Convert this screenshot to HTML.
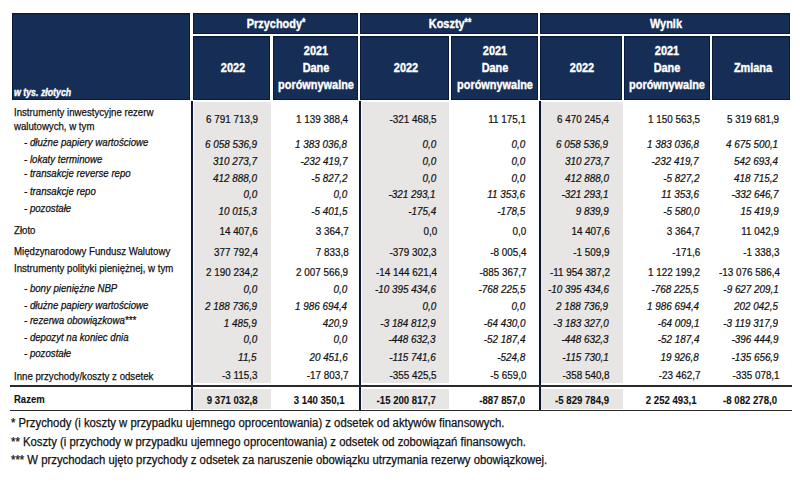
<!DOCTYPE html>
<html><head><meta charset="utf-8"><title>Tabela</title>
<style>
html,body{margin:0;padding:0;background:#fff;}
#r{position:relative;width:800px;height:486px;overflow:hidden;background:#fff;font-family:"Liberation Sans",Arial,sans-serif;}
.b{position:absolute;}
.ht{position:absolute;width:200px;text-align:center;color:#fff;font-weight:bold;line-height:1;white-space:nowrap;transform-origin:50% 0;-webkit-text-stroke-width:0.4px;}
.ast{font-size:10px;vertical-align:2px;}
.lt{position:absolute;font-size:11.0px;line-height:1;white-space:nowrap;color:#111;-webkit-text-stroke-width:0.25px;transform:scaleX(0.877);transform-origin:0 0;}
.nt{position:absolute;font-size:11.0px;line-height:1;white-space:nowrap;color:#111;text-align:right;-webkit-text-stroke-width:0.22px;transform:scaleX(0.897);transform-origin:100% 0;}
.ft{position:absolute;font-size:12px;line-height:1;white-space:nowrap;color:#111;-webkit-text-stroke-width:0.25px;transform:scaleX(0.9425);transform-origin:0 0;}
</style></head><body><div id="r">
<div class="b" style="left:12px;top:13px;width:178px;height:87px;background:#162e55;box-shadow:inset 0 0 0 1px #0a1a3c,inset 0 1px 0 1px #11244a;"></div>
<div class="b" style="left:193px;top:13px;width:165px;height:21px;background:#162e55;box-shadow:inset 0 0 0 1px #0a1a3c,inset 0 1px 0 1px #11244a;"></div>
<div class="b" style="left:360px;top:13px;width:178px;height:21px;background:#162e55;box-shadow:inset 0 0 0 1px #0a1a3c,inset 0 1px 0 1px #11244a;"></div>
<div class="b" style="left:540px;top:13px;width:250px;height:21px;background:#162e55;box-shadow:inset 0 0 0 1px #0a1a3c,inset 0 1px 0 1px #11244a;"></div>
<div class="b" style="left:193px;top:36px;width:77px;height:64px;background:#162e55;box-shadow:inset 0 0 0 1px #0a1a3c,inset 0 1px 0 1px #11244a;"></div>
<div class="b" style="left:273px;top:36px;width:85px;height:64px;background:#162e55;box-shadow:inset 0 0 0 1px #0a1a3c,inset 0 1px 0 1px #11244a;"></div>
<div class="b" style="left:360px;top:36px;width:89px;height:64px;background:#162e55;box-shadow:inset 0 0 0 1px #0a1a3c,inset 0 1px 0 1px #11244a;"></div>
<div class="b" style="left:451px;top:36px;width:87px;height:64px;background:#162e55;box-shadow:inset 0 0 0 1px #0a1a3c,inset 0 1px 0 1px #11244a;"></div>
<div class="b" style="left:540px;top:36px;width:82px;height:64px;background:#162e55;box-shadow:inset 0 0 0 1px #0a1a3c,inset 0 1px 0 1px #11244a;"></div>
<div class="b" style="left:624px;top:36px;width:86px;height:64px;background:#162e55;box-shadow:inset 0 0 0 1px #0a1a3c,inset 0 1px 0 1px #11244a;"></div>
<div class="b" style="left:712px;top:36px;width:78px;height:64px;background:#162e55;box-shadow:inset 0 0 0 1px #0a1a3c,inset 0 1px 0 1px #11244a;"></div>
<div class="b" style="left:194px;top:102px;width:77px;height:281.4px;background:#e7e6e5;"></div>
<div class="b" style="left:194px;top:388.8px;width:77px;height:19.80000000000001px;background:#e7e6e5;"></div>
<div class="b" style="left:362px;top:102px;width:87px;height:281.4px;background:#e7e6e5;"></div>
<div class="b" style="left:362px;top:388.8px;width:87px;height:19.80000000000001px;background:#e7e6e5;"></div>
<div class="b" style="left:541px;top:102px;width:82px;height:281.4px;background:#e7e6e5;"></div>
<div class="b" style="left:541px;top:388.8px;width:82px;height:19.80000000000001px;background:#e7e6e5;"></div>
<div class="b" style="left:191px;top:101px;width:2px;height:310px;background:#0c1734;"></div>
<div class="b" style="left:359px;top:101px;width:2px;height:310px;background:#0c1734;"></div>
<div class="b" style="left:539px;top:101px;width:2px;height:310px;background:#0c1734;"></div>
<div class="b" style="left:10px;top:384.7px;width:782px;height:1.900000000000034px;background:#2a2a2a;"></div>
<div class="b" style="left:10px;top:409.6px;width:782px;height:1.7999999999999545px;background:#2a2a2a;"></div>
<div class="ht" style="left:176.3px;top:17.00px;font-size:13px;transform:scaleX(0.84)">Przychody<span class="ast">*</span></div>
<div class="ht" style="left:350.0px;top:17.00px;font-size:13px;transform:scaleX(0.84)">Koszty<span class="ast">**</span></div>
<div class="ht" style="left:565.9px;top:17.00px;font-size:13px;transform:scaleX(0.84)">Wynik</div>
<div class="ht" style="left:132.5px;top:61.40px;font-size:13px;transform:scaleX(0.84)">2022</div>
<div class="ht" style="left:305.5px;top:61.40px;font-size:13px;transform:scaleX(0.84)">2022</div>
<div class="ht" style="left:482.0px;top:61.40px;font-size:13px;transform:scaleX(0.84)">2022</div>
<div class="ht" style="left:215.5px;top:43.90px;font-size:13px;transform:scaleX(0.84)">2021</div>
<div class="ht" style="left:215.5px;top:61.00px;font-size:13px;transform:scaleX(0.84)">Dane</div>
<div class="ht" style="left:215.5px;top:77.80px;font-size:13px;transform:scaleX(0.84)">porównywalne</div>
<div class="ht" style="left:394.5px;top:43.90px;font-size:13px;transform:scaleX(0.84)">2021</div>
<div class="ht" style="left:394.5px;top:61.00px;font-size:13px;transform:scaleX(0.84)">Dane</div>
<div class="ht" style="left:394.5px;top:77.80px;font-size:13px;transform:scaleX(0.84)">porównywalne</div>
<div class="ht" style="left:567.0px;top:43.90px;font-size:13px;transform:scaleX(0.84)">2021</div>
<div class="ht" style="left:567.0px;top:61.00px;font-size:13px;transform:scaleX(0.84)">Dane</div>
<div class="ht" style="left:567.0px;top:77.80px;font-size:13px;transform:scaleX(0.84)">porównywalne</div>
<div class="ht" style="left:652.5px;top:61.40px;font-size:13px;transform:scaleX(0.84)">Zmiana</div>
<div class="lt" style="left:13.5px;top:87.73px;font-size:10px;color:#fff;font-weight:bold;font-style:italic;-webkit-text-stroke-width:0.35px;transform:scaleX(0.88)">w tys. złotych</div>
<div class="lt" style="left:13.5px;top:107.19px;">Instrumenty inwestycyjne rezerw</div>
<div class="lt" style="left:13.5px;top:120.59px;">walutowych, w tym</div>
<div class="nt" style="right:542.00px;top:114.19px;">6 791 713,9</div>
<div class="nt" style="right:451.60px;top:114.19px;">1 139 388,4</div>
<div class="nt" style="right:363.00px;top:114.19px;">-321 468,5</div>
<div class="nt" style="right:273.60px;top:114.19px;">11 175,1</div>
<div class="nt" style="right:190.40px;top:114.19px;">6 470 245,4</div>
<div class="nt" style="right:100.00px;top:114.19px;">1 150 563,5</div>
<div class="nt" style="right:20.60px;top:114.19px;">5 319 681,9</div>
<div class="lt" style="left:23.5px;top:137.39px;font-style:italic;">- dłużne papiery wartościowe</div>
<div class="nt" style="right:543.00px;top:139.19px;font-style:italic;">6 058 536,9</div>
<div class="nt" style="right:452.60px;top:139.19px;font-style:italic;">1 383 036,8</div>
<div class="nt" style="right:364.00px;top:139.19px;font-style:italic;">0,0</div>
<div class="nt" style="right:274.60px;top:139.19px;font-style:italic;">0,0</div>
<div class="nt" style="right:191.40px;top:139.19px;font-style:italic;">6 058 536,9</div>
<div class="nt" style="right:101.00px;top:139.19px;font-style:italic;">1 383 036,8</div>
<div class="nt" style="right:21.60px;top:139.19px;font-style:italic;">4 675 500,1</div>
<div class="lt" style="left:23.5px;top:153.79px;font-style:italic;">- lokaty terminowe</div>
<div class="nt" style="right:543.00px;top:156.29px;font-style:italic;">310 273,7</div>
<div class="nt" style="right:452.60px;top:156.29px;font-style:italic;">-232 419,7</div>
<div class="nt" style="right:364.00px;top:156.29px;font-style:italic;">0,0</div>
<div class="nt" style="right:274.60px;top:156.29px;font-style:italic;">0,0</div>
<div class="nt" style="right:191.40px;top:156.29px;font-style:italic;">310 273,7</div>
<div class="nt" style="right:101.00px;top:156.29px;font-style:italic;">-232 419,7</div>
<div class="nt" style="right:21.60px;top:156.29px;font-style:italic;">542 693,4</div>
<div class="lt" style="left:23.5px;top:168.49px;font-style:italic;">- transakcje reverse repo</div>
<div class="nt" style="right:543.00px;top:172.79px;font-style:italic;">412 888,0</div>
<div class="nt" style="right:452.60px;top:172.79px;font-style:italic;">-5 827,2</div>
<div class="nt" style="right:364.00px;top:172.79px;font-style:italic;">0,0</div>
<div class="nt" style="right:274.60px;top:172.79px;font-style:italic;">0,0</div>
<div class="nt" style="right:191.40px;top:172.79px;font-style:italic;">412 888,0</div>
<div class="nt" style="right:101.00px;top:172.79px;font-style:italic;">-5 827,2</div>
<div class="nt" style="right:21.60px;top:172.79px;font-style:italic;">418 715,2</div>
<div class="lt" style="left:23.5px;top:185.59px;font-style:italic;">- transakcje repo</div>
<div class="nt" style="right:543.00px;top:189.09px;font-style:italic;">0,0</div>
<div class="nt" style="right:452.60px;top:189.09px;font-style:italic;">0,0</div>
<div class="nt" style="right:364.00px;top:189.09px;font-style:italic;">-321 293,1</div>
<div class="nt" style="right:274.60px;top:189.09px;font-style:italic;">11 353,6</div>
<div class="nt" style="right:191.40px;top:189.09px;font-style:italic;">-321 293,1</div>
<div class="nt" style="right:101.00px;top:189.09px;font-style:italic;">11 353,6</div>
<div class="nt" style="right:21.60px;top:189.09px;font-style:italic;">-332 646,7</div>
<div class="lt" style="left:23.5px;top:202.89px;font-style:italic;">- pozostałe</div>
<div class="nt" style="right:543.00px;top:206.49px;font-style:italic;">10 015,3</div>
<div class="nt" style="right:452.60px;top:206.49px;font-style:italic;">-5 401,5</div>
<div class="nt" style="right:364.00px;top:206.49px;font-style:italic;">-175,4</div>
<div class="nt" style="right:274.60px;top:206.49px;font-style:italic;">-178,5</div>
<div class="nt" style="right:191.40px;top:206.49px;font-style:italic;">9 839,9</div>
<div class="nt" style="right:101.00px;top:206.49px;font-style:italic;">-5 580,0</div>
<div class="nt" style="right:21.60px;top:206.49px;font-style:italic;">15 419,9</div>
<div class="lt" style="left:13.5px;top:225.19px;">Złoto</div>
<div class="nt" style="right:542.00px;top:225.69px;">14 407,6</div>
<div class="nt" style="right:451.60px;top:225.69px;">3 364,7</div>
<div class="nt" style="right:363.00px;top:225.69px;">0,0</div>
<div class="nt" style="right:273.60px;top:225.69px;">0,0</div>
<div class="nt" style="right:190.40px;top:225.69px;">14 407,6</div>
<div class="nt" style="right:100.00px;top:225.69px;">3 364,7</div>
<div class="nt" style="right:20.60px;top:225.69px;">11 042,9</div>
<div class="lt" style="left:13.5px;top:245.89px;">Międzynarodowy Fundusz Walutowy</div>
<div class="nt" style="right:542.00px;top:246.69px;">377 792,4</div>
<div class="nt" style="right:451.60px;top:246.69px;">7 833,8</div>
<div class="nt" style="right:363.00px;top:246.69px;">-379 302,3</div>
<div class="nt" style="right:273.60px;top:246.69px;">-8 005,4</div>
<div class="nt" style="right:190.40px;top:246.69px;">-1 509,9</div>
<div class="nt" style="right:100.00px;top:246.69px;">-171,6</div>
<div class="nt" style="right:20.60px;top:246.69px;">-1 338,3</div>
<div class="lt" style="left:13.5px;top:262.59px;">Instrumenty polityki pieniężnej, w tym</div>
<div class="nt" style="right:542.00px;top:266.69px;">2 190 234,2</div>
<div class="nt" style="right:451.60px;top:266.69px;">2 007 566,9</div>
<div class="nt" style="right:363.00px;top:266.69px;">-14 144 621,4</div>
<div class="nt" style="right:273.60px;top:266.69px;">-885 367,7</div>
<div class="nt" style="right:190.40px;top:266.69px;">-11 954 387,2</div>
<div class="nt" style="right:100.00px;top:266.69px;">1 122 199,2</div>
<div class="nt" style="right:20.60px;top:266.69px;">-13 076 586,4</div>
<div class="lt" style="left:23.5px;top:282.89px;font-style:italic;">- bony pieniężne NBP</div>
<div class="nt" style="right:543.00px;top:283.89px;font-style:italic;">0,0</div>
<div class="nt" style="right:452.60px;top:283.89px;font-style:italic;">0,0</div>
<div class="nt" style="right:364.00px;top:283.89px;font-style:italic;">-10 395 434,6</div>
<div class="nt" style="right:274.60px;top:283.89px;font-style:italic;">-768 225,5</div>
<div class="nt" style="right:191.40px;top:283.89px;font-style:italic;">-10 395 434,6</div>
<div class="nt" style="right:101.00px;top:283.89px;font-style:italic;">-768 225,5</div>
<div class="nt" style="right:21.60px;top:283.89px;font-style:italic;">-9 627 209,1</div>
<div class="lt" style="left:23.5px;top:300.19px;font-style:italic;">- dłużne papiery wartościowe</div>
<div class="nt" style="right:543.00px;top:300.69px;font-style:italic;">2 188 736,9</div>
<div class="nt" style="right:452.60px;top:300.69px;font-style:italic;">1 986 694,4</div>
<div class="nt" style="right:364.00px;top:300.69px;font-style:italic;">0,0</div>
<div class="nt" style="right:274.60px;top:300.69px;font-style:italic;">0,0</div>
<div class="nt" style="right:191.40px;top:300.69px;font-style:italic;">2 188 736,9</div>
<div class="nt" style="right:101.00px;top:300.69px;font-style:italic;">1 986 694,4</div>
<div class="nt" style="right:21.60px;top:300.69px;font-style:italic;">202 042,5</div>
<div class="lt" style="left:23.5px;top:315.39px;font-style:italic;">- rezerwa obowiązkowa***</div>
<div class="nt" style="right:543.00px;top:318.39px;font-style:italic;">1 485,9</div>
<div class="nt" style="right:452.60px;top:318.39px;font-style:italic;">420,9</div>
<div class="nt" style="right:364.00px;top:318.39px;font-style:italic;">-3 184 812,9</div>
<div class="nt" style="right:274.60px;top:318.39px;font-style:italic;">-64 430,0</div>
<div class="nt" style="right:191.40px;top:318.39px;font-style:italic;">-3 183 327,0</div>
<div class="nt" style="right:101.00px;top:318.39px;font-style:italic;">-64 009,1</div>
<div class="nt" style="right:21.60px;top:318.39px;font-style:italic;">-3 119 317,9</div>
<div class="lt" style="left:23.5px;top:332.29px;font-style:italic;">- depozyt na koniec dnia</div>
<div class="nt" style="right:543.00px;top:334.49px;font-style:italic;">0,0</div>
<div class="nt" style="right:452.60px;top:334.49px;font-style:italic;">0,0</div>
<div class="nt" style="right:364.00px;top:334.49px;font-style:italic;">-448 632,3</div>
<div class="nt" style="right:274.60px;top:334.49px;font-style:italic;">-52 187,4</div>
<div class="nt" style="right:191.40px;top:334.49px;font-style:italic;">-448 632,3</div>
<div class="nt" style="right:101.00px;top:334.49px;font-style:italic;">-52 187,4</div>
<div class="nt" style="right:21.60px;top:334.49px;font-style:italic;">-396 444,9</div>
<div class="lt" style="left:23.5px;top:348.49px;font-style:italic;">- pozostałe</div>
<div class="nt" style="right:543.00px;top:351.79px;font-style:italic;">11,5</div>
<div class="nt" style="right:452.60px;top:351.79px;font-style:italic;">20 451,6</div>
<div class="nt" style="right:364.00px;top:351.79px;font-style:italic;">-115 741,6</div>
<div class="nt" style="right:274.60px;top:351.79px;font-style:italic;">-524,8</div>
<div class="nt" style="right:191.40px;top:351.79px;font-style:italic;">-115 730,1</div>
<div class="nt" style="right:101.00px;top:351.79px;font-style:italic;">19 926,8</div>
<div class="nt" style="right:21.60px;top:351.79px;font-style:italic;">-135 656,9</div>
<div class="lt" style="left:13.5px;top:370.59px;">Inne przychody/koszty z odsetek</div>
<div class="nt" style="right:542.00px;top:370.09px;">-3 115,3</div>
<div class="nt" style="right:451.60px;top:370.09px;">-17 803,7</div>
<div class="nt" style="right:363.00px;top:370.09px;">-355 425,5</div>
<div class="nt" style="right:273.60px;top:370.09px;">-5 659,0</div>
<div class="nt" style="right:190.40px;top:370.09px;">-358 540,8</div>
<div class="nt" style="right:100.00px;top:370.09px;">-23 462,7</div>
<div class="nt" style="right:20.60px;top:370.09px;">-335 078,1</div>
<div class="lt" style="left:13.5px;top:393.59px;font-weight:bold;-webkit-text-stroke-width:0.1px;transform:scaleX(0.865);">Razem</div>
<div class="nt" style="right:542.80px;top:393.89px;font-weight:bold;-webkit-text-stroke-width:0.1px;transform:scaleX(0.9135);font-size:10.5px;top:394.61px;">9 371 032,8</div>
<div class="nt" style="right:455.70px;top:393.89px;font-weight:bold;-webkit-text-stroke-width:0.1px;transform:scaleX(0.9135);font-size:10.5px;top:394.61px;">3 140 350,1</div>
<div class="nt" style="right:364.00px;top:393.89px;font-weight:bold;-webkit-text-stroke-width:0.1px;transform:scaleX(0.9135);font-size:10.5px;top:394.61px;">-15 200 817,7</div>
<div class="nt" style="right:274.80px;top:393.89px;font-weight:bold;-webkit-text-stroke-width:0.1px;transform:scaleX(0.9135);font-size:10.5px;top:394.61px;">-887 857,0</div>
<div class="nt" style="right:191.20px;top:393.89px;font-weight:bold;-webkit-text-stroke-width:0.1px;transform:scaleX(0.9135);font-size:10.5px;top:394.61px;">-5 829 784,9</div>
<div class="nt" style="right:103.20px;top:393.89px;font-weight:bold;-webkit-text-stroke-width:0.1px;transform:scaleX(0.9135);font-size:10.5px;top:394.61px;">2 252 493,1</div>
<div class="nt" style="right:22.80px;top:393.89px;font-weight:bold;-webkit-text-stroke-width:0.1px;transform:scaleX(0.9135);font-size:10.5px;top:394.61px;">-8 082 278,0</div>
<div class="ft" style="left:11.4px;top:417.04px">* Przychody (i koszty w przypadku ujemnego oprocentowania) z odsetek od aktywów finansowych.</div>
<div class="ft" style="left:11.4px;top:435.84px">** Koszty (i przychody w przypadku ujemnego oprocentowania) z odsetek od zobowiązań finansowych.</div>
<div class="ft" style="left:11.4px;top:453.84px">*** W przychodach ujęto przychody z odsetek za naruszenie obowiązku utrzymania rezerwy obowiązkowej.</div>
</div></body></html>
